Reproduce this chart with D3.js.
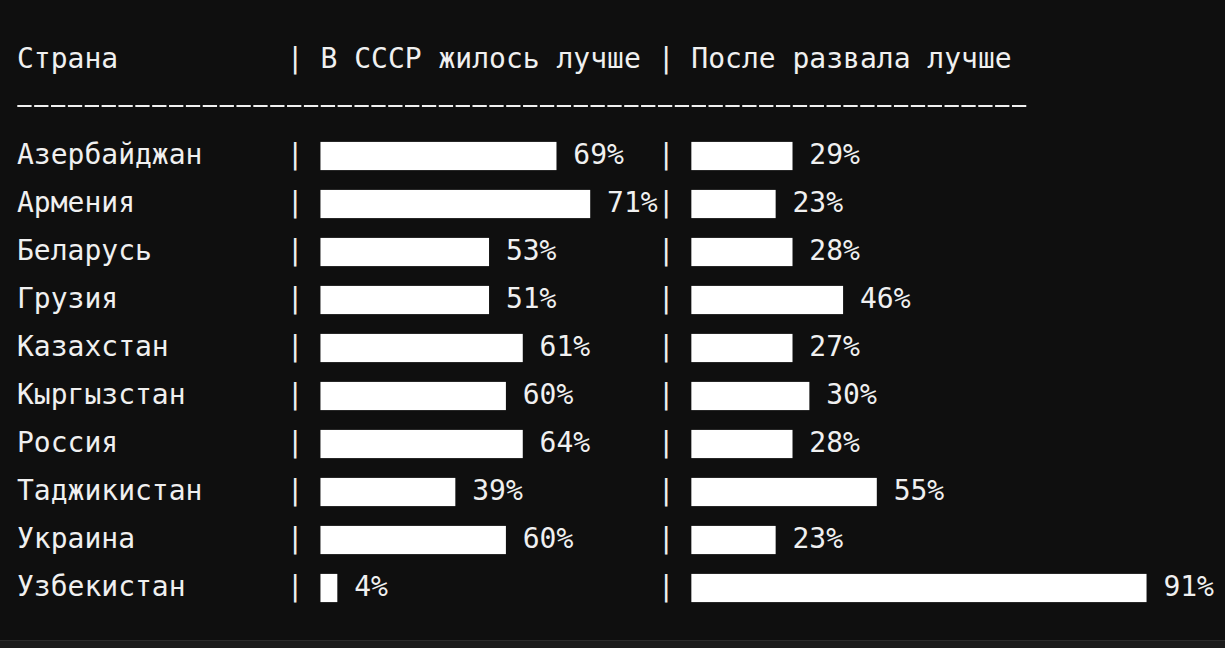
<!DOCTYPE html>
<html lang="ru">
<head>
  <meta charset="UTF-8" />
  <title>СССР: жилось лучше?</title>
  <script src="https://cdn.jsdelivr.net/npm/d3@7"></script>
  <style>
    html, body {
      margin: 0;
      padding: 0;
      background: #0f0f0f;
      overflow: hidden;
    }
    svg {
      display: block;
    }
    text {
      font-family: "DejaVu Sans Mono", monospace;
      font-size: 28px;
      fill: #f0f0f0;
      white-space: pre;
    }
  </style>
</head>
<body>
  <script>
    // Data
    const countries = ["Азербайджан", "Армения", "Беларусь", "Грузия", "Казахстан",
                       "Кыргызстан", "Россия", "Таджикистан", "Украина", "Узбекистан"];
    const ussrBetter = [69, 71, 53, 51, 61, 60, 64, 39, 60, 4];
    const afterBetter = [29, 23, 28, 46, 27, 30, 28, 55, 23, 91];
    // bar length as printed, in block characters
    const ussrBlocks = [14, 16, 10, 10, 12, 11, 12, 8, 11, 1];
    const afterBlocks = [6, 5, 6, 9, 6, 7, 6, 11, 5, 27];
    const headers = ["Страна", "В СССР жилось лучше", "После развала лучше"];

    const width = 1225, height = 648;
    const charW = 28 * 0.6021; // DejaVu Sans Mono advance

    const svg = d3.select("body").append("svg")
      .attr("width", width)
      .attr("height", height);

    svg.append("rect")
      .attr("width", width).attr("height", height)
      .attr("fill", "#0f0f0f");

    // bottom status strip
    svg.append("rect")
      .attr("x", 0).attr("y", 640).attr("width", width).attr("height", 8)
      .attr("fill", "#1c1c1c");
    svg.append("line")
      .attr("x1", 0).attr("x2", width).attr("y1", 640.5).attr("y2", 640.5)
      .attr("stroke", "#2c2c2c");

    // text grid: column -> x, line -> baseline
    const col = d3.scaleLinear().domain([0, 1]).range([17, 17 + charW]);
    const line = d3.scaleLinear().domain([0, 1]).range([67.5, 115.5]);

    const put = (c, l, s) => svg.append("text")
      .attr("x", col(c)).attr("y", line(l)).text(s);

    // header
    put(0, 0, headers[0]);
    put(16, 0, "|");
    put(18, 0, headers[1]);
    put(38, 0, "|");
    put(40, 0, headers[2]);

    // separator: 60 dashes, one per column
    const dash = 14.3;
    svg.append("line")
      .attr("x1", col(0) + 0.3).attr("x2", col(60))
      .attr("y1", line(1) - 9.5).attr("y2", line(1) - 9.5)
      .attr("stroke", "#f0f0f0")
      .attr("stroke-width", 2.2)
      .attr("stroke-dasharray", `${dash} ${charW - dash}`);

    const rows = countries.map((name, i) => ({
      name, l: i + 2,
      a: ussrBetter[i], na: ussrBlocks[i],
      b: afterBetter[i], nb: afterBlocks[i]
    }));

    // bars: start column and length in blocks
    const bars = rows.flatMap(r => [
      { l: r.l, c: 18, n: r.na },
      { l: r.l, c: 40, n: r.nb }
    ]);

    svg.append("g").selectAll("rect")
      .data(bars)
      .join("rect")
      .attr("x", d => col(d.c))
      .attr("width", d => col(d.c + d.n) - col(d.c))
      .attr("y", d => line(d.l) - 21.6)
      .attr("height", 28.2)
      .attr("fill", "#ffffff");

    rows.forEach(r => {
      put(0, r.l, r.name);
      put(16, r.l, "|");
      put(38, r.l, "|");
      put(18 + r.na + 1, r.l, r.a + "%");
      put(40 + r.nb + 1, r.l, r.b + "%");
    });
  </script>
</body>
</html>
